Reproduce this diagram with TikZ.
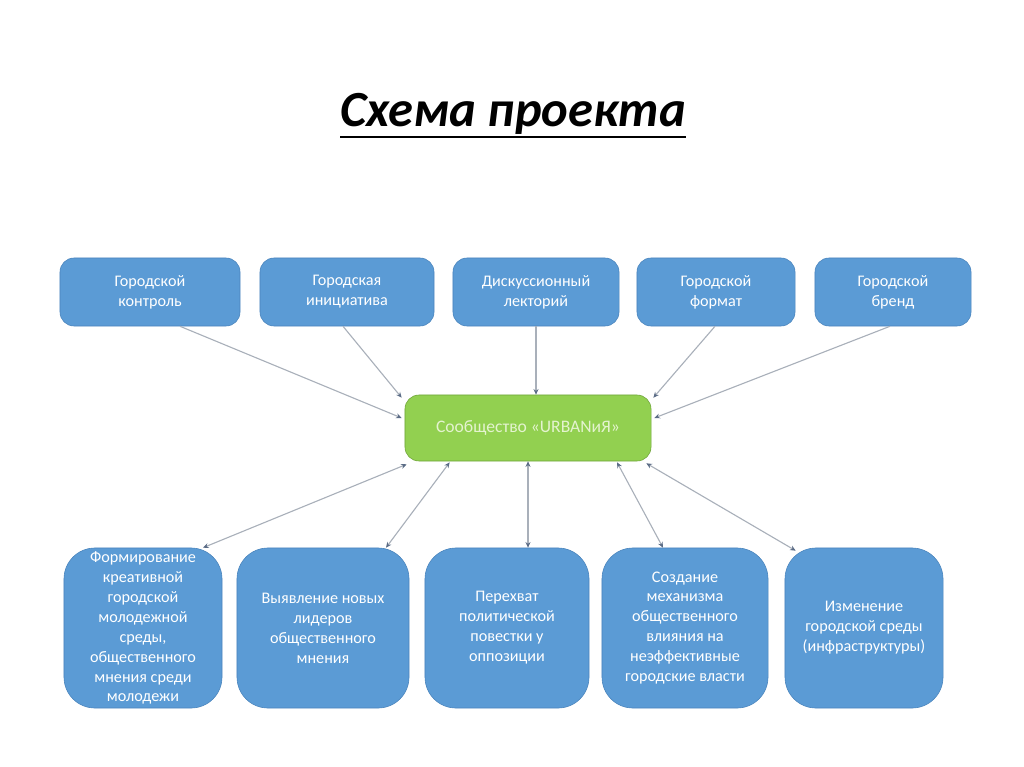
\documentclass[tikz,border=0pt]{standalone}
\usepackage{fontspec}
\setmainfont{Carlito}
\usetikzlibrary{arrows.meta,calc}
\definecolor{boxblue}{HTML}{5B9BD5}
\definecolor{boxedge}{HTML}{4A84BC}
\definecolor{hubgreen}{HTML}{92D050}
\definecolor{hubedge}{HTML}{6FA43A}
\definecolor{hubtext}{HTML}{E4F3CF}
\definecolor{linkgray}{HTML}{A9B0BA}
\definecolor{tipgray}{HTML}{5B6C86}
\newcommand\thickul[1]{\leavevmode\vtop{\hbox{#1}\kern0.5pt\hrule height 2pt}}
\tikzset{
  topbox/.style={draw=boxedge, fill=boxblue, rounded corners=10, minimum height=1.7cm,
    align=center, text=white, font=\fontsize{11.5}{14.2}\selectfont},
  botbox/.style={draw=boxedge, fill=boxblue, rounded corners=22, minimum height=4cm,
    align=center, text=white, font=\fontsize{11.5}{14.2}\selectfont},
  hubbox/.style={draw=hubedge, fill=hubgreen, rounded corners=10, minimum width=6.15cm,
    minimum height=1.65cm, text=hubtext, font=\fontsize{12.5}{14}\selectfont},
  link/.style={draw=linkgray, line width=0.8pt, -{Stealth[length=4pt,width=3.5pt,color=tipgray]}},
  duplink/.style={link, {Stealth[length=4pt,width=3.5pt,color=tipgray]}-{Stealth[length=4pt,width=3.5pt,color=tipgray]}}
}
\begin{document}
\begin{tikzpicture}[x=0.025cm, y=-0.025cm]
\useasboundingbox (0,0) rectangle (1024,767);
% title
\node (title) at (513,116) {\fontsize{36}{38}\selectfont\bfseries\itshape\thickul{Схема проекта}};
% upper row
\node[topbox, minimum width=4.5cm]  (t1) at (150,292) {Городской\\контроль};
\node[topbox, minimum width=4.35cm] (t2) at (347,292) {Городская\\инициатива};
\node[topbox, minimum width=4.15cm] (t3) at (536,292) {Дискуссионный\\лекторий};
\node[topbox, minimum width=3.95cm] (t4) at (716,292) {Городской\\формат};
\node[topbox, minimum width=3.9cm]  (t5) at (893,292) {Городской\\бренд};
% centre
\node[hubbox] (hub) at (528,428) {Сообщество «URBANиЯ»};
% lower row
\node[botbox, minimum width=3.95cm, inner ysep=0pt] (b1) at (143,628) {Формирование\\креативной\\городской\\молодежной\\среды,\\общественного\\мнения среди\\молодежи};
\node[botbox, minimum width=4.3cm]  (b2) at (323,628) {Выявление новых\\лидеров\\общественного\\мнения};
\node[botbox, minimum width=4.1cm]  (b3) at (507,628) {Перехват\\политической\\повестки у\\оппозиции};
\node[botbox, minimum width=4.15cm] (b4) at (685,628) {Создание\\механизма\\общественного\\влияния на\\неэффективные\\городские власти};
\node[botbox, minimum width=3.95cm] (b5) at (864,628) {Изменение\\городской среды\\(инфраструктуры)};
% links in
\draw[link] ($(t1.south)+(30,0)$) -- ($(hub.west)+(-3,-10)$);
\draw[link] ($(t2.south)+(-4,0)$) -- ($(hub.north west)+(-3,3)$);
\draw[link] (t3.south) -- (t3.south |- hub.north);
\draw[link] ($(t4.south)+(-1,0)$) -- ($(hub.north east)+(2,3)$);
\draw[link] ($(t5.south)+(-3,0)$) -- ($(hub.east)+(3,-10)$);
% links out
\draw[duplink] ($(hub.south west)+(2,3)$) -- ($(b1.north)+(60,0)$);
\draw[duplink] ($(hub.south west)+(45,1)$) -- ($(b2.north)+(63,0)$);
\draw[duplink] (hub.south) -- (hub.south |- b3.north);
\draw[duplink] ($(hub.south)+(89,1)$) -- ($(b4.north)+(-22,0)$);
\draw[duplink] ($(hub.south east)+(-5,2)$) -- ($(b5.north west)+(11,3)$);
\end{tikzpicture}
\end{document}
